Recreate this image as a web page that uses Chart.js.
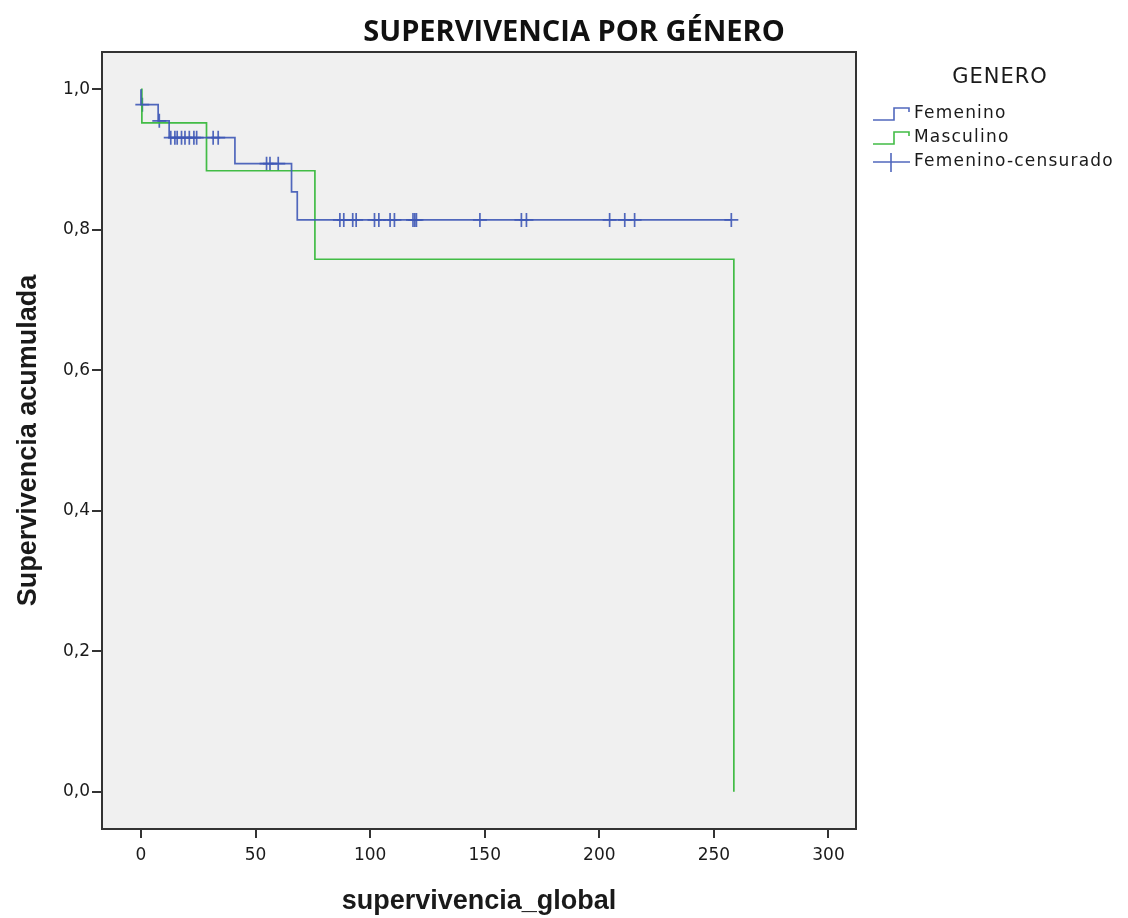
<!DOCTYPE html>
<html>
<head>
<meta charset="utf-8">
<title>Supervivencia por género</title>
<script src="https://cdn.jsdelivr.net/npm/chart.js@4.4.1/dist/chart.umd.min.js"></script>
<style>
  html, body { margin: 0; padding: 0; background: #fff; }
</style>
</head>
<body>
<canvas id="km" width="1128" height="918"></canvas>
<script>
// Kaplan-Meier steps
const femTimes = [0, 0, 7.5, 12.3, 41, 65.7, 68.2, 257.6];
const femSurv  = [1.0, 0.978, 0.955, 0.931, 0.894, 0.854, 0.814, 0.814];

const mascTimes = [0, 0.4, 28.6, 75.9, 258.7, 258.7];
const mascSurv  = [1.0, 0.952, 0.884, 0.758, 0.758, 0.0];

// censored cases (Femenino)
const femCensTimes = [0.6, 8, 13, 14.8, 15.8, 17.7, 19.2, 21.1, 23.1, 24.3, 31.5, 33.7,
  54.8, 56.3, 59.9,
  86.8, 88.5, 92.4, 93.9, 101.9, 103.8, 108.7, 110.6, 118.7, 119.5, 120.2, 147.9,
  166, 168.2, 204.5, 211.1, 215.4, 257.6];

const xTicks = [0, 50, 100, 150, 200, 250, 300];
const yTicks = [0, 0.2, 0.4, 0.6, 0.8, 1.0];

const BLUE = 'rgba(62, 88, 182, 0.9)';
const GREEN = 'rgba(56, 184, 60, 0.95)';
const TEXT = '#1a1a1a';

// survival level in force at time t
function levelAt(times, surv, t) {
    let s = surv[0];
    for (let i = 0; i < times.length; i++) {
        if (times[i] <= t) s = surv[i];
    }
    return s;
}

const toPoints = (xs, ys) => xs.map((x, i) => ({ x, y: ys[i] }));

const bgFrame = {
    id: 'bgFrame',
    beforeDatasetsDraw(chart) {
        const { ctx, chartArea: a } = chart;
        ctx.save();
        ctx.fillStyle = '#f0f0f0';
        ctx.fillRect(a.left, a.top, a.right - a.left, a.bottom - a.top);
        ctx.restore();
    },
    afterDraw(chart) {
        const { ctx, chartArea: a } = chart;
        ctx.save();
        ctx.strokeStyle = '#333';
        ctx.lineWidth = 2;
        ctx.strokeRect(a.left, a.top, a.right - a.left, a.bottom - a.top);
        ctx.restore();
    }
};

// SPSS-like legend at the right of the plot
const sideLegend = {
    id: 'sideLegend',
    afterDraw(chart) {
        const { ctx, chartArea: a } = chart;
        const x0 = a.right + 17;
        ctx.save();
        ctx.fillStyle = TEXT;
        ctx.textBaseline = 'middle';
        ctx.font = '21px "DejaVu Sans", sans-serif';
        ctx.textAlign = 'center';
        ctx.letterSpacing = '1px';
        ctx.fillText('GENERO', 1000, 78);

        ctx.font = '17px "DejaVu Sans", sans-serif';
        ctx.letterSpacing = '1.2px';
        ctx.textAlign = 'left';
        const items = [
            { label: 'Femenino', color: BLUE, kind: 'step', y: 114 },
            { label: 'Masculino', color: GREEN, kind: 'step', y: 138 },
            { label: 'Femenino-censurado', color: BLUE, kind: 'cross', y: 162 }
        ];
        items.forEach(it => {
            ctx.strokeStyle = it.color;
            ctx.lineWidth = 1.6;
            ctx.beginPath();
            if (it.kind === 'step') {
                ctx.moveTo(x0, it.y + 6);
                ctx.lineTo(x0 + 21, it.y + 6);
                ctx.lineTo(x0 + 21, it.y - 6);
                ctx.lineTo(x0 + 36, it.y - 6);
                ctx.lineTo(x0 + 36, it.y - 2);
            } else {
                ctx.moveTo(x0, it.y);
                ctx.lineTo(x0 + 37, it.y);
                ctx.moveTo(x0 + 18, it.y - 9);
                ctx.lineTo(x0 + 18, it.y + 10);
            }
            ctx.stroke();
            ctx.fillStyle = TEXT;
            ctx.fillText(it.label, x0 + 41, it.y);
        });
        ctx.restore();
    }
};

const titleFont = { family: '"Liberation Sans Narrow", "Liberation Sans", sans-serif', size: 27, weight: 'bold' };
const tickFont = { family: '"DejaVu Sans", sans-serif', size: 17 };

new Chart(document.getElementById('km'), {
    type: 'scatter',
    data: {
        datasets: [
            {
                label: 'Femenino',
                data: toPoints(femTimes, femSurv),
                showLine: true,
                stepped: 'before',
                borderColor: BLUE,
                borderWidth: 1.7,
                pointRadius: 0
            },
            {
                label: 'Masculino',
                data: toPoints(mascTimes, mascSurv),
                showLine: true,
                stepped: 'before',
                borderColor: GREEN,
                borderWidth: 1.7,
                pointRadius: 0
            },
            {
                label: 'Femenino-censurado',
                data: femCensTimes.map(t => ({ x: t, y: levelAt(femTimes, femSurv, t) })),
                showLine: false,
                pointStyle: 'cross',
                pointRadius: 7,
                borderColor: BLUE,
                borderWidth: 1.7
            }
        ]
    },
    options: {
        responsive: false,
        animation: false,
        layout: { padding: { left: 20, right: 0, top: 0, bottom: 0 } },
        plugins: {
            legend: { display: false },
            tooltip: { enabled: false },
            title: {
                display: true,
                text: 'SUPERVIVENCIA POR GÉNERO',
                font: { family: '"Open Sans", sans-serif', size: 29, weight: 'bold' },
                color: '#111',
                padding: { top: 15.6, bottom: 1.6 }
            }
        },
        scales: {
            x: {
                type: 'linear',
                min: -17,
                max: 312,
                afterBuildTicks: s => { s.ticks = xTicks.map(v => ({ value: v })); },
                afterFit: s => { s.height = 89; },
                grid: { drawOnChartArea: false, drawTicks: true, tickLength: 9, color: '#333', lineWidth: 2 },
                border: { display: false },
                ticks: { font: tickFont, color: TEXT, padding: 7 },
                title: {
                    display: true,
                    text: 'supervivencia_global',
                    font: titleFont,
                    color: TEXT,
                    padding: { top: 4, bottom: 0 }
                }
            },
            y: {
                type: 'linear',
                min: -0.053,
                max: 1.053,
                afterBuildTicks: s => { s.ticks = yTicks.map(v => ({ value: v })); },
                afterFit: s => { s.width = 82; },
                grid: { drawOnChartArea: false, drawTicks: true, tickLength: 10, color: '#333', lineWidth: 2 },
                border: { display: false },
                ticks: {
                    font: tickFont,
                    color: TEXT,
                    padding: 2,
                    callback: v => v.toFixed(1).replace('.', ',')
                },
                title: {
                    display: true,
                    text: 'Supervivencia acumulada',
                    font: titleFont,
                    color: TEXT,
                    padding: { top: -8, bottom: 0 }
                }
            },
            // empty axis that keeps room for the legend on the right
            yLegend: {
                type: 'linear',
                position: 'right',
                display: true,
                afterFit: s => { s.width = 272; },
                grid: { display: false },
                border: { display: false },
                ticks: { display: false }
            }
        }
    },
    plugins: [bgFrame, sideLegend]
});
</script>
</body>
</html>
